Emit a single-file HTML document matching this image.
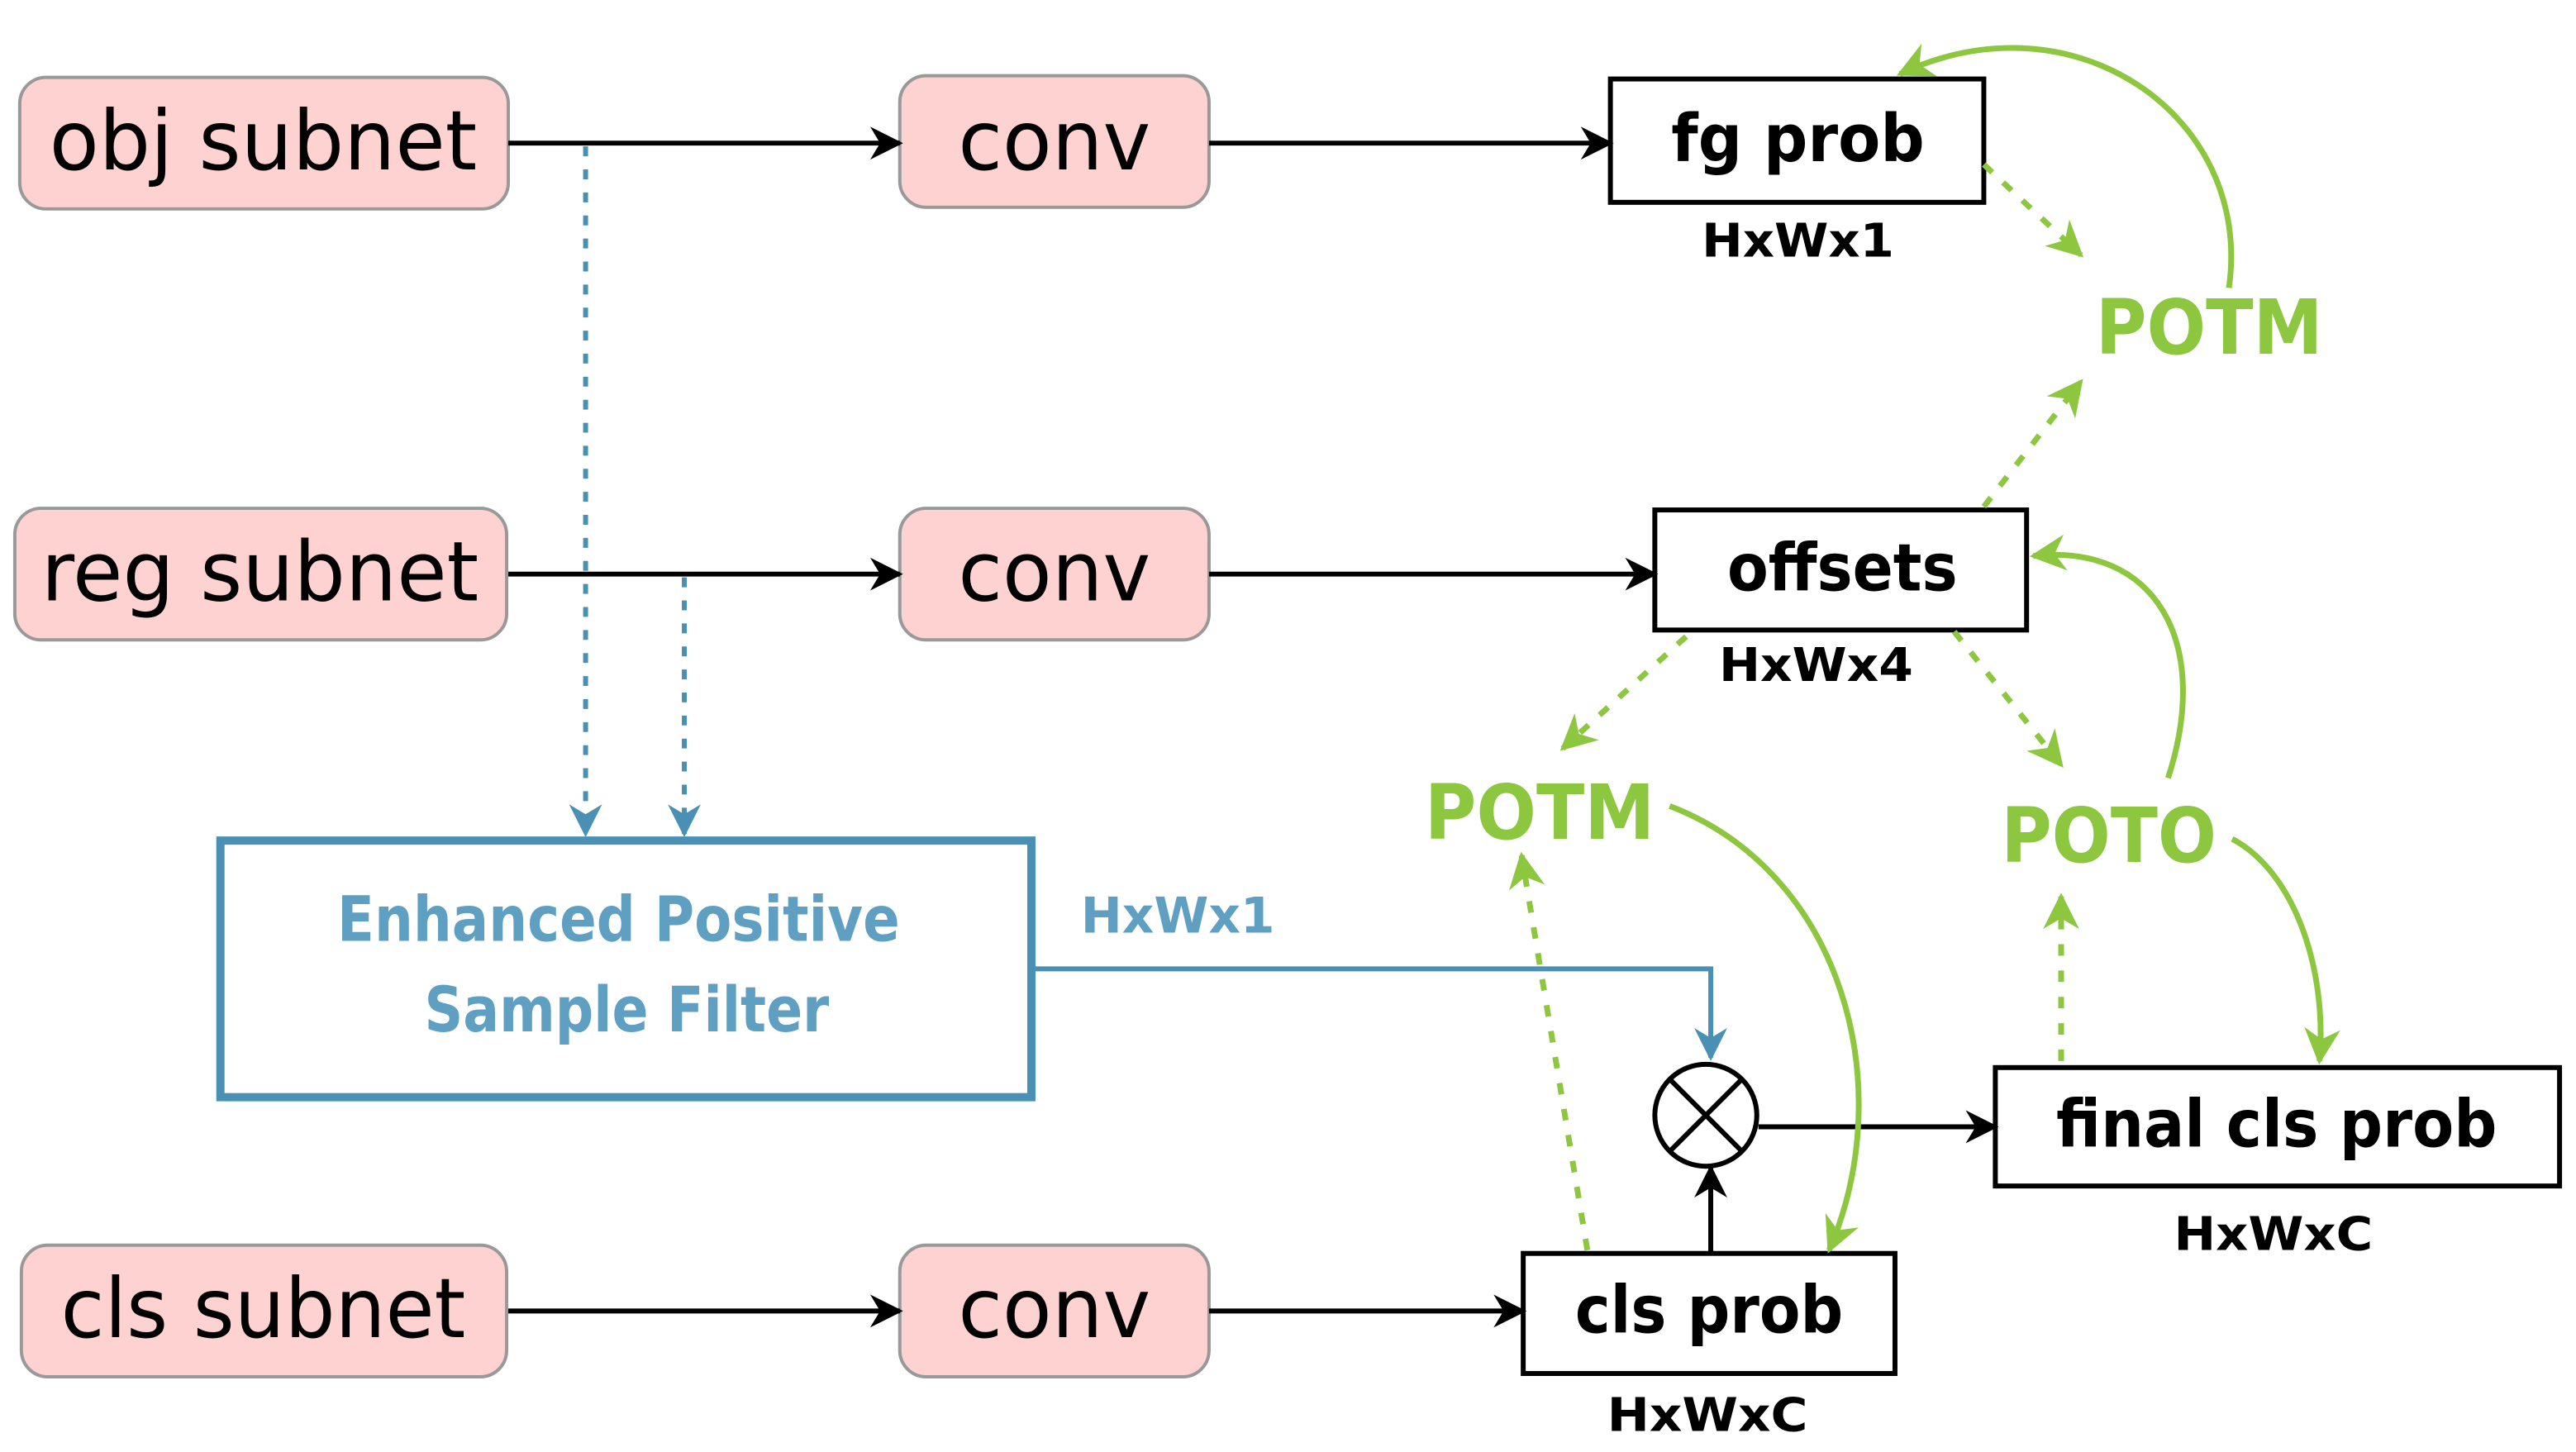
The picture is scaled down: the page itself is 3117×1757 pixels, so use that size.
<!DOCTYPE html>
<html><head><meta charset="utf-8"><style>
html,body{margin:0;padding:0;background:#fff;}
svg{display:block;}
text{font-family:"DejaVu Sans","Liberation Sans",sans-serif;}
</style></head><body>
<svg width="3117" height="1757" viewBox="0 0 1566 882.7" xmlns="http://www.w3.org/2000/svg">
<defs>
<marker id="ab" viewBox="0 0 20 20" refX="18" refY="10" markerWidth="20" markerHeight="20" markerUnits="userSpaceOnUse" orient="auto">
<path d="M0,0 L20,10 L0,20 L6,10 z" fill="#000"/></marker>
<marker id="ag" viewBox="0 0 20 20" refX="18" refY="10" markerWidth="22" markerHeight="22" markerUnits="userSpaceOnUse" orient="auto">
<path d="M0,0 L20,10 L0,20 L6,10 z" fill="#8dc63f"/></marker>
<marker id="abl" viewBox="0 0 20 20" refX="18" refY="10" markerWidth="20" markerHeight="20" markerUnits="userSpaceOnUse" orient="auto">
<path d="M0,0 L20,10 L0,20 L6,10 z" fill="#4a90b5"/></marker>
</defs>
<g fill="#ffd2d2" stroke="#999" stroke-width="2">
<rect x="12" y="47" width="297" height="80" rx="16"/>
<rect x="547" y="46" width="188" height="80" rx="16"/>
<rect x="9" y="309" width="299" height="80" rx="16"/>
<rect x="547" y="309" width="188" height="80" rx="16"/>
<rect x="13" y="757" width="295" height="80" rx="16"/>
<rect x="547" y="757" width="188" height="80" rx="16"/>
</g>
<g font-size="50" text-anchor="middle" fill="#000">
<text x="160" y="103" textLength="260" lengthAdjust="spacingAndGlyphs">obj subnet</text>
<text x="641" y="103" textLength="117" lengthAdjust="spacingAndGlyphs">conv</text>
<text x="158" y="365" textLength="266" lengthAdjust="spacingAndGlyphs">reg subnet</text>
<text x="641" y="365" textLength="117" lengthAdjust="spacingAndGlyphs">conv</text>
<text x="160" y="813" textLength="246" lengthAdjust="spacingAndGlyphs">cls subnet</text>
<text x="641" y="813" textLength="117" lengthAdjust="spacingAndGlyphs">conv</text>
</g>
<g fill="#fff" stroke="#000" stroke-width="3">
<rect x="979" y="48" width="227" height="75"/>
<rect x="1006" y="310" width="226" height="73"/>
<rect x="926" y="762" width="226" height="73"/>
<rect x="1213" y="649" width="343" height="72"/>
</g>
<g font-weight="bold" text-anchor="middle" fill="#000">
<text x="1093" y="98" font-size="40" textLength="154" lengthAdjust="spacingAndGlyphs">fg prob</text>
<text x="1120" y="359" font-size="40" textLength="140" lengthAdjust="spacingAndGlyphs">offsets</text>
<text x="1039" y="810" font-size="40" textLength="163" lengthAdjust="spacingAndGlyphs">cls prob</text>
<text x="1384" y="697" font-size="40" textLength="268" lengthAdjust="spacingAndGlyphs">final cls prob</text>
<text x="1093" y="156" font-size="28" textLength="117" lengthAdjust="spacingAndGlyphs">HxWx1</text>
<text x="1104" y="414" font-size="28" textLength="118" lengthAdjust="spacingAndGlyphs">HxWx4</text>
<text x="1038" y="870" font-size="28" textLength="122" lengthAdjust="spacingAndGlyphs">HxWxC</text>
<text x="1382" y="760" font-size="28" textLength="121" lengthAdjust="spacingAndGlyphs">HxWxC</text>
</g>
<rect x="134" y="511" width="493" height="156" fill="#fff" stroke="#4a90b5" stroke-width="5"/>
<g font-weight="bold" text-anchor="middle" fill="#5f9fc2" font-size="38">
<text x="376" y="572" textLength="342" lengthAdjust="spacingAndGlyphs">Enhanced Positive</text>
<text x="381" y="627" textLength="246" lengthAdjust="spacingAndGlyphs">Sample Filter</text>
<text x="716" y="567" font-size="30" textLength="118" lengthAdjust="spacingAndGlyphs">HxWx1</text>
</g>
<g fill="#8dc63f" font-weight="bold" text-anchor="middle" font-size="46">
<text x="1343" y="215" textLength="138" lengthAdjust="spacingAndGlyphs">POTM</text>
<text x="936" y="510" textLength="140" lengthAdjust="spacingAndGlyphs">POTM</text>
<text x="1282" y="524" textLength="131" lengthAdjust="spacingAndGlyphs">POTO</text>
</g>
<g stroke="#000" stroke-width="3" fill="none" marker-end="url(#ab)">
<line x1="309" y1="87" x2="547" y2="87"/>
<line x1="735" y1="87" x2="979" y2="87"/>
<line x1="309" y1="349" x2="547" y2="349"/>
<line x1="735" y1="349" x2="1006" y2="349"/>
<line x1="309" y1="797" x2="547" y2="797"/>
<line x1="735" y1="797" x2="926" y2="797"/>
<line x1="1040" y1="762" x2="1040" y2="710"/>
<line x1="1069" y1="685" x2="1213" y2="685"/>
</g>
<circle cx="1037" cy="678" r="31" fill="#fff" stroke="#000" stroke-width="3"/>
<line x1="1015" y1="656" x2="1059" y2="700" stroke="#000" stroke-width="3"/>
<line x1="1059" y1="656" x2="1015" y2="700" stroke="#000" stroke-width="3"/>
<path d="M627,589 H1040 V643" stroke="#4a90b5" stroke-width="3" fill="none" marker-end="url(#abl)"/>
<g stroke="#4a90b5" stroke-width="3" stroke-dasharray="6,8" fill="none" marker-end="url(#abl)">
<line x1="356" y1="89" x2="356" y2="507"/>
<line x1="416" y1="351" x2="416" y2="507"/>
</g>
<g stroke="#8dc63f" stroke-width="3.5" stroke-dasharray="7,9" fill="none" marker-end="url(#ag)">
<line x1="1206" y1="100" x2="1265" y2="155"/>
<line x1="1206" y1="308" x2="1265" y2="232"/>
<line x1="1025" y1="387" x2="950" y2="455"/>
<line x1="1188" y1="384" x2="1253" y2="465"/>
<line x1="965" y1="760" x2="925" y2="520"/>
<line x1="1253" y1="645" x2="1253" y2="545"/>
</g>
<g stroke="#8dc63f" stroke-width="3.5" fill="none" marker-end="url(#ag)">
<path d="M1355,175 C1370,70 1260,-5 1155,45"/>
<path d="M1318,473 C1345,390 1310,330 1236,338"/>
<path d="M1015,490 C1120,530 1155,660 1112,760"/>
<path d="M1357,510 C1395,530 1415,590 1410,645"/>
</g>
</svg>
</body></html>
